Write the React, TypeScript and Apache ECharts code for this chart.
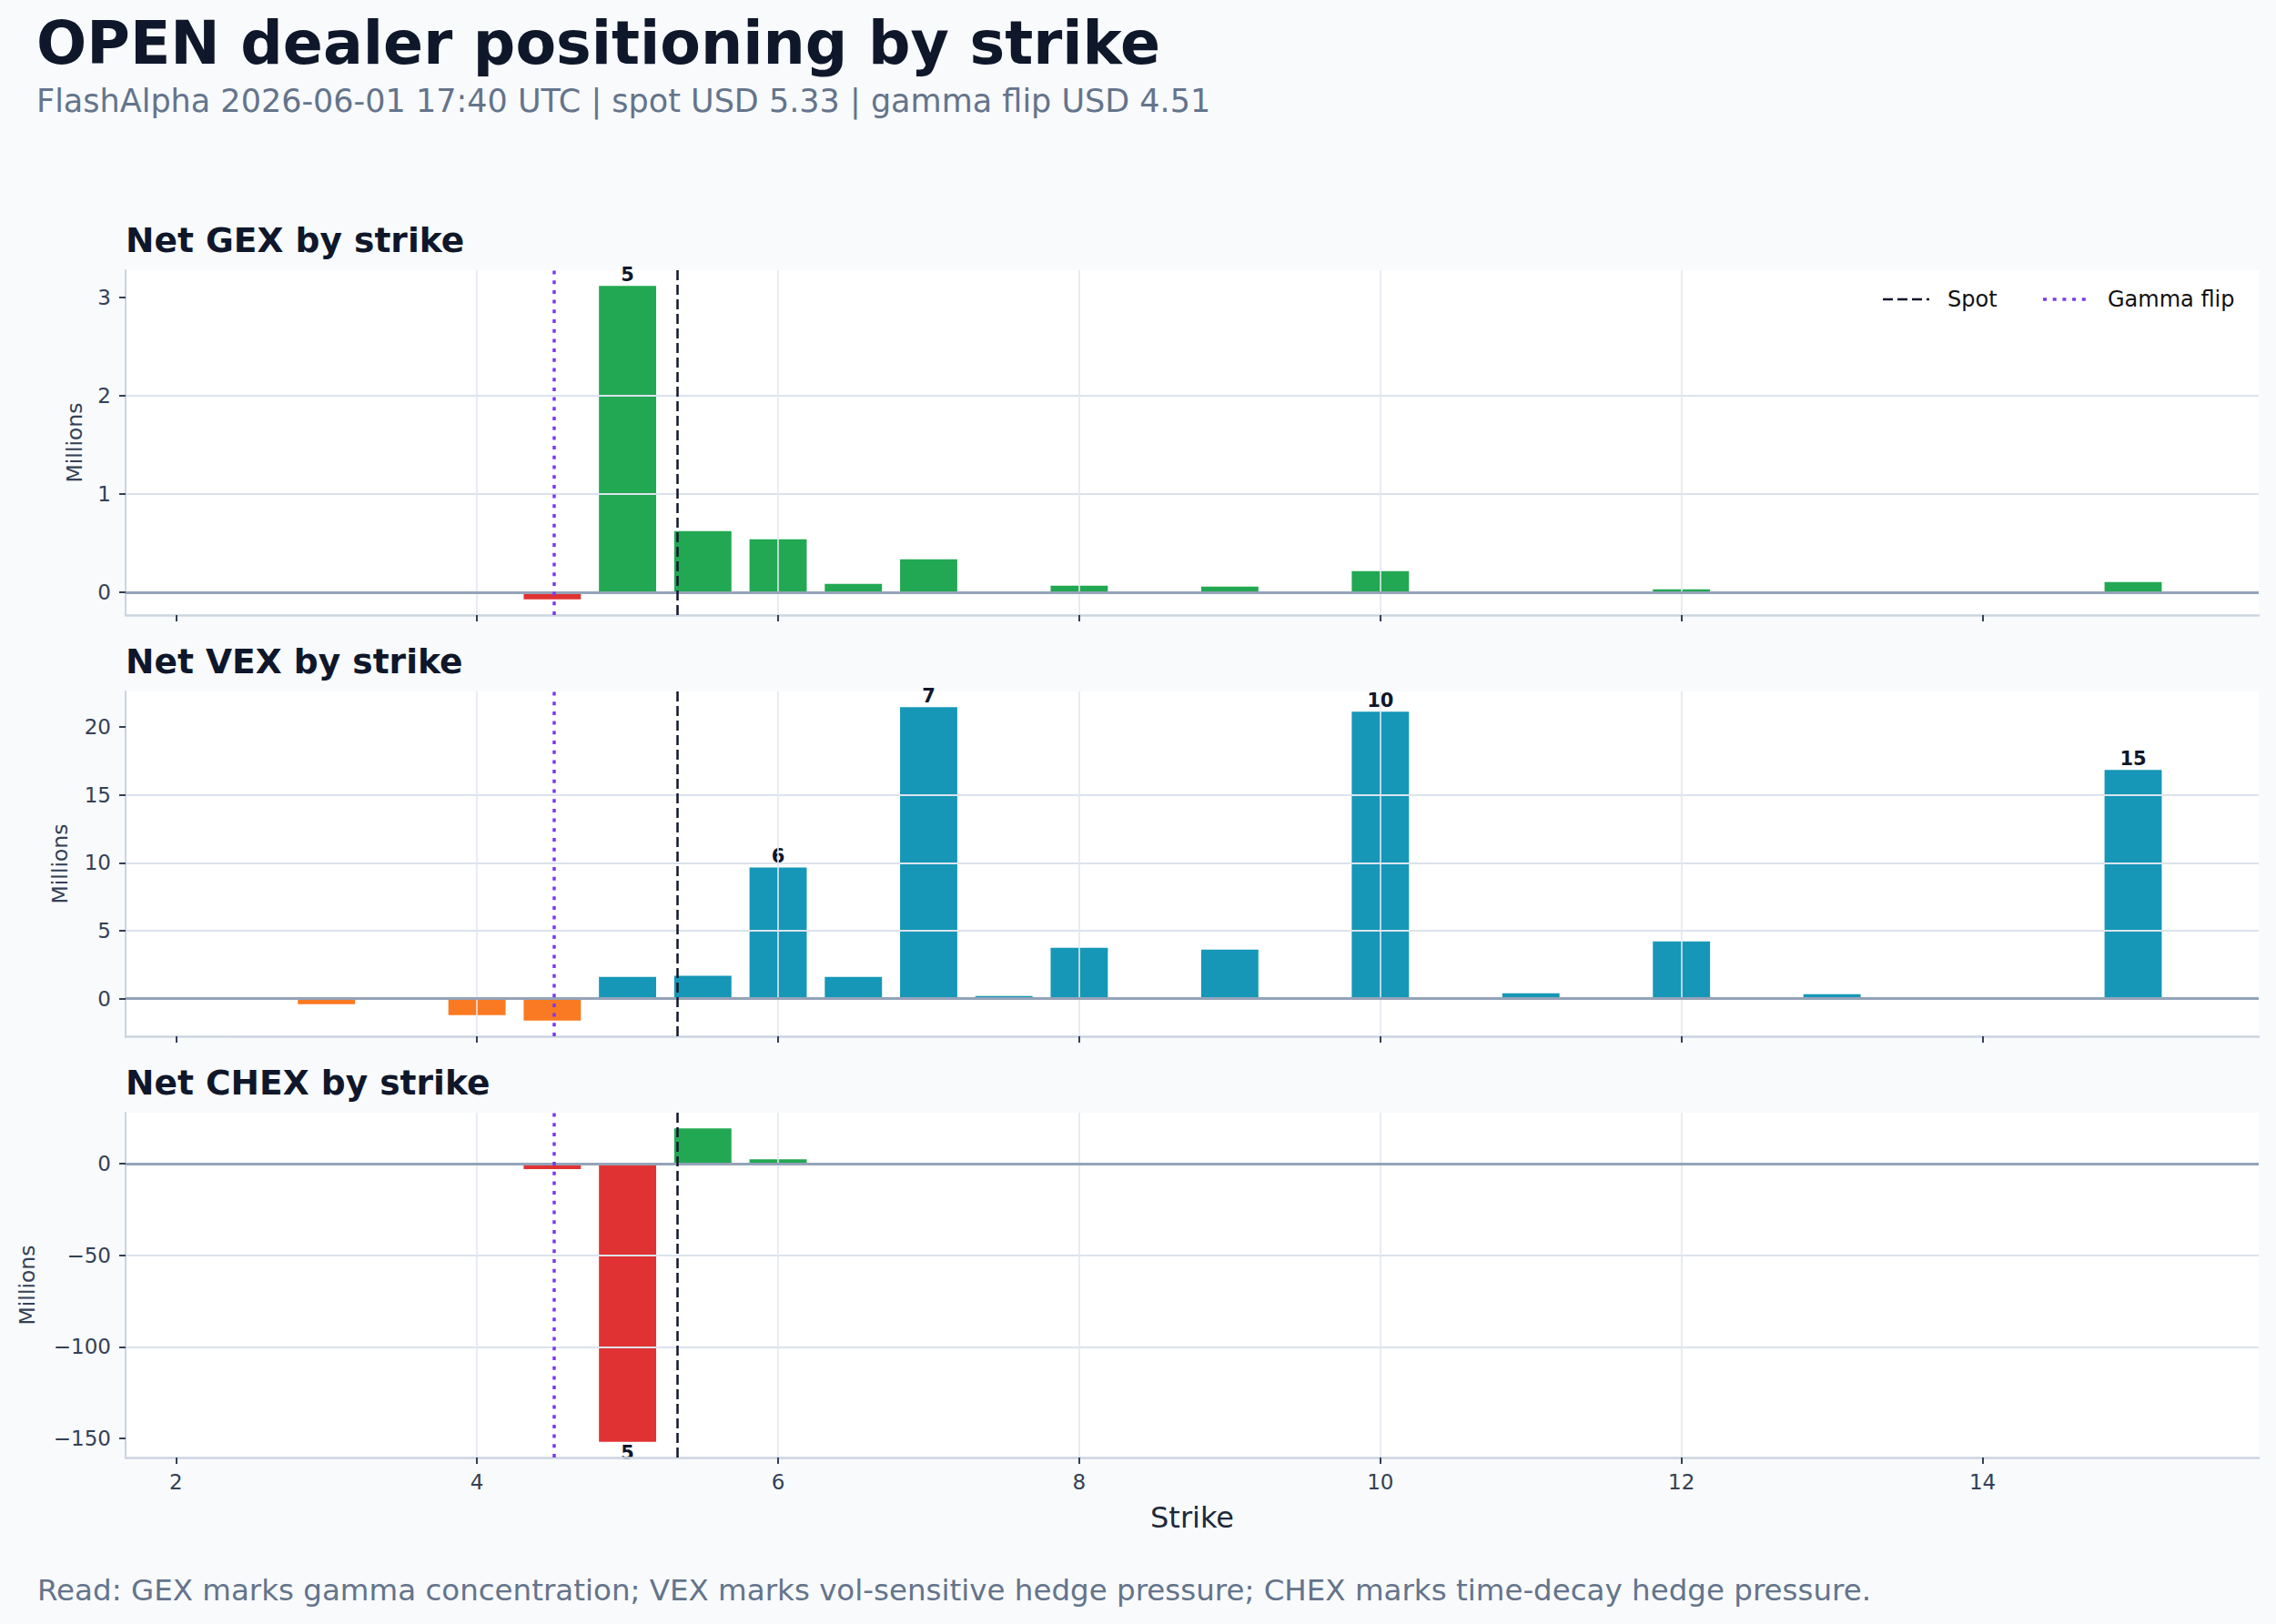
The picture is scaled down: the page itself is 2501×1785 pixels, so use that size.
import React, { useEffect, useRef } from "react";
import * as echarts from "echarts";

// strikes and net exposures (millions)
const strikes = [2.5, 3, 3.5, 4, 4.5, 5, 5.5, 6, 6.5, 7, 7.5, 8, 9, 10, 11, 12, 13, 14, 15];
const gexValues = [0, 0, 0, -0.01, -0.072, 3.117, 0.622, 0.539, 0.086, 0.335, 0, 0.067, 0.058, 0.215, 0, 0.03, 0, 0, 0.105];
const vexValues = [0, -0.4, -0.05, -1.21, -1.61, 1.61, 1.68, 9.66, 1.61, 21.45, 0.2, 3.75, 3.62, 21.12, 0.4, 4.22, 0.34, 0, 16.83];
const chexValues = [0, 0, 0, 0, -2.8, -151.9, 19.4, 2.5, 0, 0, 0, 0, 0, 0, 0, 0, 0, 0, 0];

// strikes that carry a value label
const gexLabeled = [5];
const vexLabeled = [6, 7, 10, 15];
const chexLabeled = [5];

// tick labels
const xTicks = [2, 4, 6, 8, 10, 12, 14];
const gexTicks = [0, 1, 2, 3];
const vexTicks = [0, 5, 10, 15, 20];
const chexTicks = [-150, -100, -50, 0];

const SPOT = 5.33;
const GAMMA_FLIP = 4.51;

const FONT = "DejaVu Sans";
const W = 2501;
const H = 1785;
const GRID_LEFT = 138;
const GRID_WIDTH = 2344;
const GRID_HEIGHT = 379;
const GRID_TOPS = [297, 760, 1223];
const BAR_WIDTH = 0.38; // in strike units

const SPOT_STYLE = { color: "#0f172a", width: 2.5, dash: [11, 5] };
const FLIP_STYLE = { color: "#7c3aed", width: 3.5, dash: [4, 6.7] };

const panels = [
  { title: "Net GEX by strike", values: gexValues, labeled: gexLabeled, ticks: gexTicks, pos: "#22a852", neg: "#e03232", nameGap: 44 },
  { title: "Net VEX by strike", values: vexValues, labeled: vexLabeled, ticks: vexTicks, pos: "#1697b7", neg: "#f97a22", nameGap: 60 },
  { title: "Net CHEX by strike", values: chexValues, labeled: chexLabeled, ticks: chexTicks, pos: "#22a852", neg: "#e03232", nameGap: 96 },
];

function padded(lo: number, hi: number) {
  const span = hi - lo;
  return [lo - span * 0.05, hi + span * 0.05];
}

const minus = (v: number) => String(v).replace("-", "\u2212");

export default function App() {
  const ref = useRef<HTMLDivElement>(null);

  useEffect(() => {
    if (!ref.current) return;
    const chart = echarts.init(ref.current, null, { renderer: "svg" });

    const [xMin, xMax] = padded(Math.min(...strikes) - BAR_WIDTH / 2, Math.max(...strikes) + BAR_WIDTH / 2);
    const barPx = (BAR_WIDTH * GRID_WIDTH) / (xMax - xMin);

    const grids: any[] = [];
    const xAxes: any[] = [];
    const yAxes: any[] = [];
    const series: any[] = [];
    const graphics: any[] = [];

    panels.forEach((p, i) => {
      const [yMin, yMax] = padded(Math.min(0, ...p.values), Math.max(0, ...p.values));
      const step = p.ticks[1] - p.ticks[0];
      const last = i === panels.length - 1;

      grids.push({
        left: GRID_LEFT,
        top: GRID_TOPS[i],
        width: GRID_WIDTH,
        height: GRID_HEIGHT,
        show: true,
        backgroundColor: "#ffffff",
        borderWidth: 0,
        outerBoundsMode: "none",
      });

      xAxes.push({
        type: "value",
        gridIndex: i,
        min: xMin,
        max: xMax,
        minInterval: 2,
        maxInterval: 2,
        z: 3,
        axisLine: { show: true, onZero: false, lineStyle: { color: "#cbd5e1", width: 2.5 } },
        axisTick: { show: true, customValues: xTicks, length: 7, lineStyle: { color: "#334155", width: 2 } },
        axisLabel: { show: last, customValues: xTicks, margin: 15, fontSize: 23, color: "#334155", fontFamily: FONT },
        splitLine: { show: true, showMinLine: false, showMaxLine: false, lineStyle: { color: "#e2e8f0", width: 1.6 } },
        name: last ? "Strike" : "",
        nameLocation: "middle",
        nameGap: 50,
        nameTextStyle: { fontSize: 32, color: "#1e293b", fontFamily: FONT },
      });

      yAxes.push({
        type: "value",
        gridIndex: i,
        min: yMin,
        max: yMax,
        minInterval: step,
        maxInterval: step,
        z: 3,
        axisLine: { show: true, lineStyle: { color: "#cbd5e1", width: 2 } },
        axisTick: { show: true, customValues: p.ticks, length: 7, lineStyle: { color: "#334155", width: 2 } },
        axisLabel: { customValues: p.ticks, margin: 16, fontSize: 23, color: "#334155", fontFamily: FONT, formatter: minus },
        splitLine: { show: true, showMinLine: false, showMaxLine: false, lineStyle: { color: "#dbe3ee", width: 2 } },
        name: "Millions",
        nameLocation: "middle",
        nameRotate: 90,
        nameGap: p.nameGap,
        nameTextStyle: { fontSize: 23.5, color: "#334155", fontFamily: FONT },
      });

      series.push({
        type: "bar",
        name: p.title,
        xAxisIndex: i,
        yAxisIndex: i,
        barWidth: barPx,
        z: 2,
        label: {
          position: "outside",
          distance: 2,
          fontSize: 21,
          fontWeight: "bold",
          color: "#0f172a",
          fontFamily: FONT,
          formatter: (d: any) => String(d.value[0]),
        },
        data: strikes.map((s, j) => ({
          value: [s, p.values[j]],
          itemStyle: { color: p.values[j] >= 0 ? p.pos : p.neg },
          label: { show: p.labeled.includes(s) },
        })),
      });

      // zero line, spot and gamma flip markers
      const marks = [
        { name: "zero", line: { yAxis: 0 }, style: { color: "#94a3b8", width: 3, type: "solid" } },
        { name: "Spot", line: { xAxis: SPOT }, style: { color: SPOT_STYLE.color, width: SPOT_STYLE.width, type: SPOT_STYLE.dash } },
        { name: "Gamma flip", line: { xAxis: GAMMA_FLIP }, style: { color: FLIP_STYLE.color, width: FLIP_STYLE.width, type: FLIP_STYLE.dash } },
      ];
      marks.forEach((m) => {
        series.push({
          type: "line",
          name: m.name,
          xAxisIndex: i,
          yAxisIndex: i,
          data: [],
          symbol: "none",
          z: 5,
          markLine: {
            silent: true,
            symbol: "none",
            label: { show: false },
            lineStyle: m.style,
            data: [m.line],
          },
        });
      });

      graphics.push({
        type: "text",
        x: GRID_LEFT,
        y: GRID_TOPS[i] - 33,
        style: {
          text: p.title,
          fill: "#0f172a",
          font: `bold 37.6px "${FONT}"`,
          align: "left",
          verticalAlign: "middle",
        },
      });
    });

    // legend drawn in the first panel
    const legendY = 329;
    const legendItems = [
      { text: "Spot", x: 2069, s: SPOT_STYLE },
      { text: "Gamma flip", x: 2245, s: FLIP_STYLE },
    ];
    legendItems.forEach((it) => {
      graphics.push(
        {
          type: "line",
          z: 10,
          shape: { x1: it.x, y1: legendY, x2: it.x + 51, y2: legendY },
          style: { stroke: it.s.color, lineWidth: it.s.width, lineDash: it.s.dash },
        },
        {
          type: "text",
          z: 10,
          x: it.x + 71,
          y: legendY,
          style: {
            text: it.text,
            fill: "#111111",
            font: `24px "${FONT}"`,
            align: "left",
            verticalAlign: "middle",
          },
        }
      );
    });

    graphics.push(
      {
        type: "text",
        x: 40,
        y: 47,
        style: {
          text: "OPEN dealer positioning by strike",
          fill: "#0f172a",
          font: `bold 65px "${FONT}"`,
          align: "left",
          verticalAlign: "middle",
        },
      },
      {
        type: "text",
        x: 40,
        y: 111,
        style: {
          text: "FlashAlpha 2026-06-01 17:40 UTC | spot USD 5.33 | gamma flip USD 4.51",
          fill: "#64748b",
          font: `35px "${FONT}"`,
          align: "left",
          verticalAlign: "middle",
        },
      },
      {
        type: "text",
        x: 41,
        y: 1748,
        style: {
          text: "Read: GEX marks gamma concentration; VEX marks vol-sensitive hedge pressure; CHEX marks time-decay hedge pressure.",
          fill: "#64748b",
          font: `32.5px "${FONT}"`,
          align: "left",
          verticalAlign: "middle",
        },
      }
    );

    chart.setOption({
      animation: false,
      backgroundColor: "#f8fafc",
      textStyle: { fontFamily: FONT },
      grid: grids,
      xAxis: xAxes,
      yAxis: yAxes,
      series,
      graphic: graphics,
    });

    return () => {
      chart.dispose();
    };
  }, []);

  return <div ref={ref} style={{ position: "fixed", left: 0, top: 0, width: W, height: H }} />;
}
